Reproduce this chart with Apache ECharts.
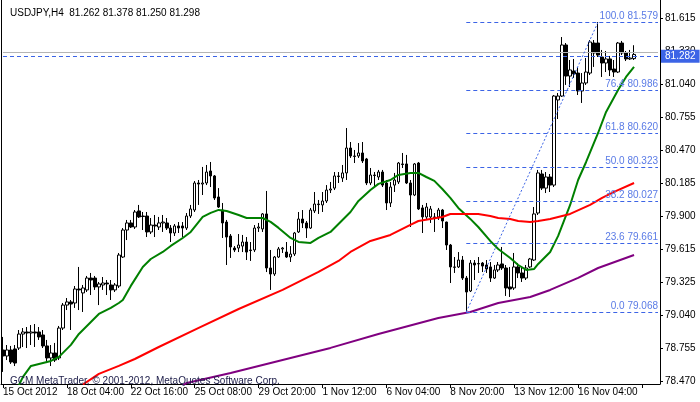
<!DOCTYPE html>
<html><head><meta charset="utf-8">
<script src="https://cdn.jsdelivr.net/npm/echarts@6/dist/echarts.min.js"></script>
<style>html,body{margin:0;padding:0;background:#fff}#c{width:700px;height:402px}</style>
</head><body><div id="c"></div><script>
const symbolName = 'USDJPY,H4';
const tickLabels = ['15 Oct 2012','18 Oct 04:00','22 Oct 16:00','25 Oct 08:00','29 Oct 20:00','1 Nov 12:00','6 Nov 04:00','8 Nov 20:00','13 Nov 12:00','16 Nov 04:00'];
const yTicks = [78.470,78.755,79.040,79.325,79.615,79.900,80.185,80.470,80.755,81.040,81.330,81.615];

const open = [78.739,78.687,78.739,78.748,78.756,78.877,78.895,78.886,78.895,78.895,
78.869,78.774,78.670,78.713,78.670,78.929,79.128,79.155,79.146,79.267,
79.233,79.259,79.362,79.362,79.285,79.302,79.319,79.302,79.259,79.293,
79.544,79.778,79.839,79.804,79.943,79.899,79.899,79.761,79.821,79.804,
79.839,79.839,79.795,79.752,79.813,79.813,79.795,79.899,79.951,80.185,
80.176,80.185,80.289,80.246,80.064,79.951,79.847,79.726,79.622,79.622,
79.639,79.674,79.605,79.605,79.795,79.787,79.917,79.449,79.397,79.544,
79.614,79.587,79.544,79.570,79.761,79.873,79.839,79.795,79.943,80.003,
79.995,80.029,80.124,80.141,80.246,80.228,80.272,80.488,80.419,80.419,
80.445,80.393,80.185,80.254,80.237,80.280,80.185,80.012,80.167,80.194,
80.350,80.350,80.185,80.081,80.358,79.969,79.891,79.891,79.891,79.891,
79.951,79.847,79.648,79.458,79.458,79.518,79.362,79.250,79.492,79.484,
79.492,79.475,79.458,79.362,79.432,79.484,79.449,79.285,79.276,79.458,
79.406,79.362,79.458,79.518,79.925,80.263,80.141,80.237,80.167,80.904,
80.938,81.380,81.111,81.155,81.137,80.982,81.051,81.137,81.397,81.397,
81.276,81.224,81.259,81.172,81.146,81.397,81.311,81.259,81.262];
const high = [78.852,78.782,78.774,78.782,78.912,78.929,78.938,78.955,78.964,78.938,
78.912,78.826,78.782,78.800,78.947,79.146,79.189,79.172,79.293,79.458,
79.302,79.380,79.406,79.380,79.328,79.371,79.345,79.345,79.319,79.579,
79.795,79.865,79.865,79.951,79.995,79.934,79.934,79.882,79.908,79.891,
79.908,79.882,79.821,79.830,79.847,79.847,79.925,79.995,80.202,80.211,
80.324,80.341,80.367,80.254,80.141,80.012,79.865,79.743,79.639,79.743,
79.735,79.717,79.674,79.821,79.839,79.925,80.116,79.605,79.553,79.631,
79.631,79.674,79.639,79.761,79.934,79.951,79.856,79.969,80.107,80.038,
80.107,80.167,80.194,80.280,80.280,80.341,80.661,80.540,80.471,80.531,
80.540,80.402,80.315,80.280,80.298,80.298,80.211,80.194,80.272,80.367,
80.445,80.428,80.211,80.358,80.367,79.995,80.012,79.986,79.925,79.969,
79.960,79.850,79.657,79.544,79.587,79.553,79.380,79.518,79.518,79.544,
79.501,79.518,79.501,79.475,79.501,79.631,79.475,79.458,79.579,79.492,
79.449,79.475,79.536,79.977,80.298,80.298,80.280,80.263,80.947,80.964,
81.449,81.397,81.250,81.259,81.190,81.137,81.267,81.423,81.423,81.579,
81.337,81.328,81.285,81.250,81.406,81.415,81.328,81.337,81.378];
const low = [78.549,78.652,78.618,78.600,78.739,78.765,78.756,78.782,78.765,78.826,
78.756,78.626,78.600,78.635,78.652,78.912,79.085,78.912,79.103,79.085,
79.068,79.241,79.215,79.259,79.128,79.259,79.215,79.172,79.241,79.276,
79.536,79.691,79.795,79.787,79.882,79.778,79.717,79.743,79.717,79.778,
79.761,79.778,79.674,79.726,79.752,79.717,79.778,79.882,79.934,79.995,
80.081,80.167,80.150,80.038,79.969,79.709,79.475,79.536,79.587,79.587,
79.587,79.518,79.510,79.587,79.761,79.761,79.414,79.259,79.380,79.536,
79.579,79.536,79.501,79.553,79.752,79.795,79.709,79.787,79.925,79.917,
79.934,80.012,80.098,80.124,80.185,80.194,80.211,80.402,80.358,80.402,
80.358,80.167,80.167,80.150,80.211,80.150,79.951,79.977,80.107,80.176,
80.315,80.176,79.804,80.072,79.951,79.752,79.865,79.839,79.761,79.865,
79.795,79.605,79.319,79.406,79.449,79.345,79.068,79.241,79.345,79.406,
79.414,79.406,79.328,79.354,79.414,79.432,79.207,79.198,79.259,79.362,
79.328,79.345,79.449,79.510,79.908,80.124,80.098,80.107,80.150,80.739,
80.930,81.034,81.016,81.094,80.947,80.878,81.034,81.120,81.190,81.276,
81.103,81.146,81.111,81.103,81.137,81.293,81.241,81.250,81.250];
const close = [78.687,78.739,78.635,78.626,78.877,78.895,78.886,78.895,78.886,78.852,
78.774,78.670,78.713,78.652,78.929,79.128,79.155,79.137,79.267,79.259,
79.276,79.362,79.345,79.285,79.311,79.319,79.311,79.259,79.302,79.561,
79.778,79.839,79.804,79.934,79.891,79.895,79.761,79.821,79.813,79.839,
79.847,79.795,79.752,79.813,79.795,79.795,79.899,79.960,80.185,80.176,
80.185,80.280,80.246,80.055,79.977,79.839,79.717,79.631,79.605,79.648,
79.674,79.587,79.600,79.795,79.804,79.917,79.449,79.397,79.544,79.614,
79.622,79.544,79.570,79.752,79.873,79.839,79.795,79.951,80.003,79.998,
80.029,80.124,80.133,80.246,80.241,80.272,80.488,80.419,80.415,80.445,
80.376,80.185,80.254,80.250,80.280,80.167,80.012,80.150,80.211,80.358,
80.345,80.185,80.081,80.350,79.960,79.891,79.977,79.960,79.886,79.951,
79.856,79.648,79.458,79.455,79.518,79.362,79.241,79.492,79.475,79.488,
79.466,79.440,79.362,79.432,79.475,79.449,79.276,79.267,79.458,79.406,
79.362,79.449,79.527,79.917,80.272,80.141,80.237,80.167,80.938,80.938,
81.380,81.111,81.164,81.129,80.982,81.051,81.146,81.406,81.311,81.293,
81.224,81.259,81.164,81.146,81.397,81.311,81.259,81.267,81.298];

const greenMA = [[4,78.436],[5,78.506],[7,78.601],[10,78.627],[12,78.644],[14,78.679],[17,78.783],[19,78.878],[22,78.982],[24,79.051],[27,79.103],[29,79.146],[30,79.172],[32,79.294],[35,79.458],[37,79.527],[40,79.588],[42,79.640],[45,79.709],[47,79.761],[49,79.848],[50,79.891],[52,79.926],[54,79.952],[56,79.943],[59,79.908],[61,79.882],[65,79.882],[67,79.848],[69,79.796],[72,79.709],[74,79.675],[77,79.666],[79,79.709],[82,79.761],[84,79.830],[87,79.934],[89,80.030],[92,80.125],[94,80.177],[97,80.211],[99,80.255],[102,80.272],[104,80.272],[106,80.237],[108,80.203],[110,80.133],[112,80.056],[114,79.969],[117,79.874],[119,79.804],[122,79.683],[124,79.614],[127,79.536],[129,79.475],[131,79.432],[133,79.441],[134,79.484],[137,79.588],[139,79.727],[142,79.995],[144,80.211],[146,80.367],[149,80.618],[151,80.800],[154,80.991],[156,81.103],[158,81.190]];
const redMA = [[20,78.440],[24,78.532],[29,78.601],[33,78.661],[39,78.765],[49,78.930],[59,79.094],[70,79.259],[75,79.346],[79,79.415],[84,79.510],[87,79.588],[92,79.683],[97,79.735],[102,79.822],[104,79.856],[107,79.874],[110,79.891],[112,79.917],[117,79.917],[119,79.917],[122,79.900],[124,79.882],[127,79.874],[129,79.856],[132,79.848],[134,79.856],[137,79.874],[142,79.917],[147,79.995],[150,80.056],[153,80.108],[158,80.185]];
const purpleMA = [[44,78.410],[46,78.454],[57,78.540],[70,78.653],[82,78.757],[94,78.878],[109,79.016],[117,79.068],[124,79.146],[132,79.198],[137,79.259],[144,79.363],[149,79.449],[158,79.562]];

const fibRatios = [100.0,76.4,61.8,50.0,38.2,23.6,0.0];
const fibPrices = [81.579,80.986,80.620,80.323,80.027,79.661,79.068];
const fibFrom = 116, fibTo = 149;
const hLinePrice = 81.282;
const bidPrice = 81.316;

const N = 165;
const cats = Array.from({length: N}, (_, i) => i);
const yMin = 78.4445, yMax = 81.7696;
const FONT = 'Liberation Sans';
const FIB = '#3c64e6';
const last = open.length - 1;
const candles = open.map((o, i) => [o, close[i], low[i], high[i]]);

const chart = echarts.init(document.getElementById('c'), null, {renderer: 'canvas'});
chart.setOption({
  animation: false,
  backgroundColor: '#fff',
  textStyle: {fontFamily: FONT},
  title: [
    {text: symbolName + '  ' + [open[last], high[last], low[last], close[last]].map(v => v.toFixed(3)).join(' '),
     left: 5, top: 3, textStyle: {fontSize: 10, fontWeight: 'normal', color: '#000', fontFamily: FONT}},
    {text: 'GCM MetaTrader, \u00a9 2001-2012, MetaQuotes Software Corp.',
     left: 5, top: 371, textStyle: {fontSize: 10, fontWeight: 'normal', color: '#1c1c48', fontFamily: FONT}}
  ],
  grid: {left: 1, right: 40, top: 0, bottom: 18},
  xAxis: {
    type: 'category', data: cats, boundaryGap: true,
    axisLine: {lineStyle: {color: '#000', width: 1}},
    axisTick: {show: true, alignWithLabel: true, interval: (i) => i % 16 === 0, length: 4, lineStyle: {color: '#000'}},
    axisLabel: {interval: (i) => i % 16 === 0, formatter: (v, i) => tickLabels[i / 16] || '', align: 'left', margin: 3, fontSize: 10, color: '#000', fontFamily: FONT},
    splitLine: {show: false}
  },
  yAxis: [
    {type: 'value', position: 'right', min: yMin, max: yMax,
     axisLine: {show: true, lineStyle: {color: '#000'}},
     axisTick: {show: true, length: 3, customValues: yTicks, lineStyle: {color: '#000'}},
     axisLabel: {customValues: yTicks, formatter: v => v.toFixed(3), margin: 5, fontSize: 10, color: '#000', fontFamily: FONT},
     splitLine: {show: false}},
    {type: 'value', position: 'left', min: yMin, max: yMax,
     axisLine: {show: true, lineStyle: {color: '#000'}}, axisTick: {show: false}, axisLabel: {show: false}, splitLine: {show: false}}
  ],
  series: [
    {type: 'line', name: 'fib', data: [], silent: true,
     markLine: {silent: true, symbol: ['none', 'none'], animation: false,
       data: [
         [{xAxis: 0, yAxis: bidPrice, lineStyle: {type: 'solid', color: '#b4b4b4', width: 1}, label: {show: false}}, {xAxis: N - 1, yAxis: bidPrice}],
         ...fibRatios.map((r, k) => [
           {coord: [fibFrom, fibPrices[k]], lineStyle: {type: [4, 3], color: FIB, width: 1},
            label: {show: true, position: 'insideEndTop', distance: [0, 1], formatter: r.toFixed(1) + ' ' + fibPrices[k].toFixed(3), color: '#5a7be6', fontSize: 10, fontFamily: FONT}},
           {coord: [N - 1, fibPrices[k]]}
         ]),
         [{coord: [fibFrom, fibPrices[6]], lineStyle: {type: [2, 2], color: FIB, width: 1}, label: {show: false}}, {coord: [fibTo, fibPrices[0]]}],
         [{xAxis: 0, yAxis: hLinePrice, lineStyle: {type: [4, 3], color: FIB, width: 1},
           label: {show: true, position: 'end', distance: 3, formatter: hLinePrice.toFixed(3), color: '#fff', backgroundColor: '#3c64e6', padding: [2, 4, 1, 4], fontSize: 10, fontFamily: FONT}},
          {xAxis: N - 1, yAxis: hLinePrice}]
       ]}},
    {type: 'candlestick', name: 'USDJPY', data: candles, barWidth: 3,
     itemStyle: {color: '#fff', color0: '#000', borderColor: '#000', borderColor0: '#000', borderColorDoji: '#000', borderWidth: 1}},
    {type: 'line', name: 'MA1', data: greenMA, symbol: 'none', lineStyle: {color: '#008000', width: 2}, itemStyle: {color: '#008000'}},
    {type: 'line', name: 'MA2', data: redMA, symbol: 'none', lineStyle: {color: '#ff0000', width: 2}, itemStyle: {color: '#ff0000'}},
    {type: 'line', name: 'MA3', data: purpleMA, symbol: 'none', lineStyle: {color: '#800080', width: 2}, itemStyle: {color: '#800080'}}
  ]
});
</script></body></html>
